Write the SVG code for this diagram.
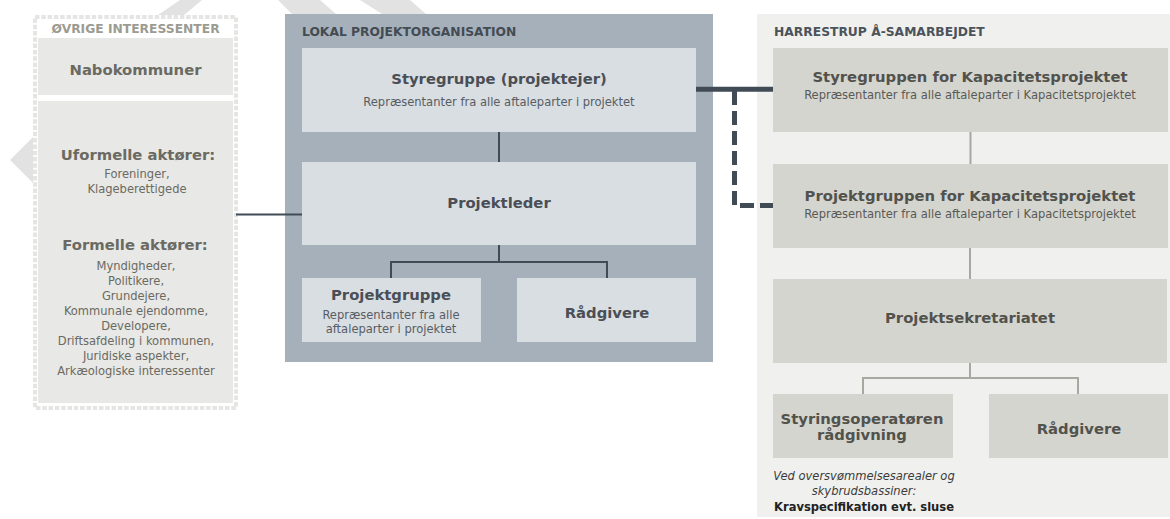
<svg xmlns="http://www.w3.org/2000/svg" width="1170" height="519" viewBox="0 0 1170 519">
<style>
.b{font-family:"DejaVu Sans",Verdana,sans-serif;font-weight:bold;font-size:14.8px;text-anchor:middle}
.h{font-family:"DejaVu Sans",Verdana,sans-serif;font-weight:bold;font-size:12.3px}
.r{font-family:"DejaVu Sans Condensed","DejaVu Sans",sans-serif;font-stretch:condensed;font-size:12.8px;text-anchor:middle}
.lbox{fill:#e8e8e6}
.cbox{fill:#d9dee2}
.rbox{fill:#d5d5d0}
.lt{fill:#6a6a62}
.ct{fill:#4a4f56}
.cs{fill:#585d64}
.rt{fill:#52524d}
.rs{fill:#5a5a55}
.dk{stroke:#404b56;fill:none}
.gy{stroke:#a8a8a0;fill:none;stroke-width:2}
</style>
<g id="decoration" fill="#e2e2e2">
<polygon points="180,0 202,0 184,15 158,15"/>
<polygon points="278,0 320,0 336,14 292,14"/>
<polygon points="360,0 410,0 426,14 382,14"/>
<polygon points="10,160 33,137 33,183"/>
</g>
<g id="ovrige">
<rect x="35" y="17" width="201" height="391" fill="#fff" stroke="#e5e5e3" stroke-width="4" stroke-dasharray="4.5 1.8"/>
<text class="h" x="135.5" y="33" text-anchor="middle" fill="#9b9b91">ØVRIGE INTERESSENTER</text>
</g>
<g id="nabokommuner">
<rect class="lbox" x="38" y="38" width="195" height="57"/>
<text class="b lt" x="135.5" y="75">Nabokommuner</text>
</g>
<g id="aktorer">
<rect class="lbox" x="38" y="101" width="195" height="302"/>
<text class="b lt" x="138" y="160">Uformelle aktører:</text>
<text class="r lt" x="137" y="177.5">Foreninger,</text>
<text class="r lt" x="137" y="192.5">Klageberettigede</text>
<text class="b lt" x="135" y="250">Formelle aktører:</text>
<text class="r lt" x="136" y="270">Myndigheder,</text>
<text class="r lt" x="136" y="285">Politikere,</text>
<text class="r lt" x="136" y="300">Grundejere,</text>
<text class="r lt" x="136" y="315">Kommunale ejendomme,</text>
<text class="r lt" x="136" y="330">Developere,</text>
<text class="r lt" x="136" y="345">Driftsafdeling i kommunen,</text>
<text class="r lt" x="136" y="360">Juridiske aspekter,</text>
<text class="r lt" x="136" y="375">Arkæologiske interessenter</text>
</g>
<g id="lokal">
<rect x="285" y="14" width="428" height="348" fill="#a6b0bb"/>
<text class="h" x="302" y="36" fill="#434b53">LOKAL PROJEKTORGANISATION</text>
</g>
<g id="styregruppe">
<rect class="cbox" x="302" y="48" width="394" height="84"/>
<text class="b ct" x="499" y="83.5">Styregruppe (projektejer)</text>
<text class="r cs" x="499" y="106">Repræsentanter fra alle aftaleparter i projektet</text>
</g>
<g id="projektleder">
<rect class="cbox" x="302" y="162" width="394" height="83"/>
<text class="b ct" x="499" y="207.5">Projektleder</text>
</g>
<g id="projektgruppe">
<rect class="cbox" x="302" y="278" width="179" height="64"/>
<text class="b ct" x="391" y="300">Projektgruppe</text>
<text class="r cs" x="391" y="318.5">Repræsentanter fra alle</text>
<text class="r cs" x="391" y="332.5">aftaleparter i projektet</text>
</g>
<g id="raadgivere-lokal">
<rect class="cbox" x="517" y="278" width="179" height="64"/>
<text class="b ct" x="607" y="317.5">Rådgivere</text>
</g>
<g id="harrestrup">
<rect x="757" y="14" width="413" height="503" fill="#f0f0ee"/>
<text class="h" x="774" y="36" fill="#4b535b">HARRESTRUP Å-SAMARBEJDET</text>
</g>
<g id="styregruppen-kap">
<rect class="rbox" x="773" y="48" width="395" height="84"/>
<text class="b rt" x="970" y="81.5">Styregruppen for Kapacitetsprojektet</text>
<text class="r rs" x="970" y="99">Repræsentanter fra alle aftaleparter i Kapacitetsprojektet</text>
</g>
<g id="projektgruppen-kap">
<rect class="rbox" x="773" y="164" width="395" height="84"/>
<text class="b rt" x="970" y="200.5">Projektgruppen for Kapacitetsprojektet</text>
<text class="r rs" x="970" y="218">Repræsentanter fra alle aftaleparter i Kapacitetsprojektet</text>
</g>
<g id="projektsekretariatet">
<rect class="rbox" x="773" y="279" width="394" height="84"/>
<text class="b rt" x="970" y="322.5">Projektsekretariatet</text>
</g>
<g id="styringsoperatoren">
<rect class="rbox" x="773" y="394" width="180" height="64"/>
<text class="b rt" x="862" y="424">Styringsoperatøren</text>
<text class="b rt" x="862" y="439.5">rådgivning</text>
</g>
<g id="raadgivere-harrestrup">
<rect class="rbox" x="989" y="394" width="179" height="64"/>
<text class="b rt" x="1079" y="433.5">Rådgivere</text>
</g>
<g id="note">
<text class="r" x="864" y="479.5" font-style="italic" fill="#3c3c3c">Ved oversvømmelsesarealer og</text>
<text class="r" x="864" y="495" font-style="italic" fill="#3c3c3c">skybrudsbassiner:</text>
<text class="r" x="864" y="511" font-weight="bold" fill="#222">Kravspecifikation evt. sluse</text>
</g>
<g id="connectors">
<path class="dk" stroke-width="2" d="M499,132 V162"/>
<path class="dk" stroke-width="2" d="M499,245 V262 M391,278 V262 H607 V278"/>
<path class="dk" stroke-width="2" stroke="#4a5663" d="M236,214.5 H302"/>
<path class="dk" stroke-width="5" d="M696,89.3 H773"/>
<path class="dk" stroke-width="5" stroke-dasharray="14 6" d="M734.5,91 V205.5 H773"/>
<path class="gy" d="M970.5,132 V164 M970,248 V279"/>
<path class="gy" d="M970,363 V378 M863,394 V378 H1078 V394"/>
</g>
</svg>
